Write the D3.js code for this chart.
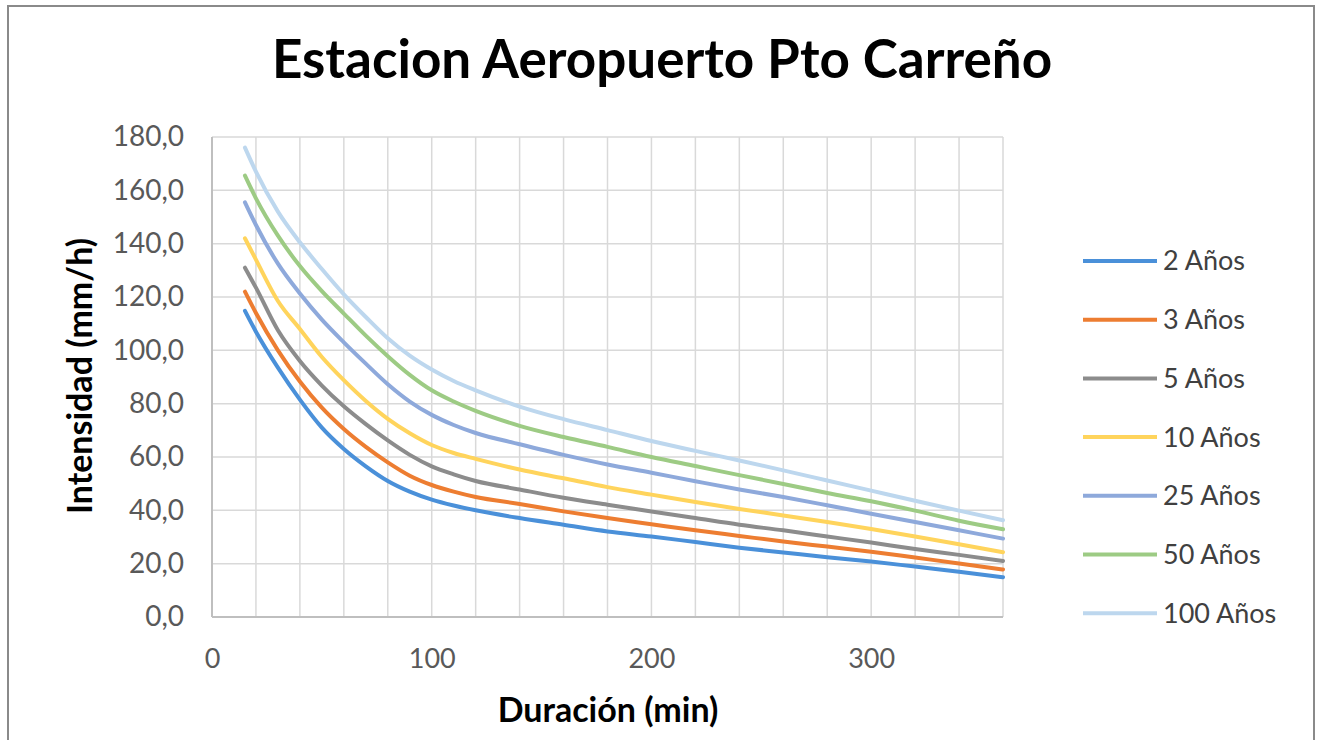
<!DOCTYPE html>
<meta charset="utf-8">
<script src="https://d3js.org/d3.v7.min.js"></script>
<style>
    body { margin: 0; background: #fff; }
    text { font-family: Lato, "Open Sans", sans-serif; }
</style>
<body>
<div id="chart"></div>
</body>
<script>
    // duraciones (min)
    const duracion = [15, 20, 30, 40, 50, 60, 70, 80, 90, 100, 110, 120, 140, 160, 180, 200, 220, 240, 260, 280, 300, 320, 340, 360];

    // intensidades (mm/h) por periodo de retorno
    const tr2   = [114.8, 107, 93.5, 81.5, 71, 63, 56.5, 51, 47, 44, 41.8, 40.0, 37.1, 34.6, 32.1, 30.2, 28.1, 26.0, 24.2, 22.4, 20.8, 18.9, 17.0, 14.9];
    const tr3   = [122, 114, 100, 88.3, 78.5, 70.5, 63.8, 58, 53, 49.5, 47, 45, 42.4, 39.6, 37.1, 34.8, 32.5, 30.4, 28.3, 26.4, 24.5, 22.3, 20.1, 17.8];
    const tr5   = [131, 123.5, 107.5, 96, 86.8, 79, 72.3, 66.2, 60.8, 56.5, 53.5, 51, 47.8, 44.7, 42.1, 39.6, 37.1, 34.6, 32.5, 30.2, 27.9, 25.5, 23.3, 21.0];
    const tr10  = [142, 134, 118.5, 108, 97.5, 88.8, 81, 74.3, 68.9, 64.5, 61.5, 59.3, 55.3, 52.0, 48.7, 45.9, 43.1, 40.5, 38.1, 35.6, 33.0, 30.2, 27.3, 24.3];
    const tr25  = [155.5, 147, 132.5, 121.3, 111.5, 103, 95, 87.3, 80.8, 75.8, 72, 69, 64.8, 60.8, 57.2, 54.1, 50.9, 47.8, 45.0, 41.9, 38.7, 35.6, 32.5, 29.4];
    const tr50  = [165.5, 157, 143, 131.6, 122.2, 113.8, 105.5, 97.8, 90.8, 85, 80.8, 77.3, 71.7, 67.5, 63.8, 60.0, 56.6, 53.2, 49.9, 46.5, 43.4, 39.9, 36.1, 32.9];
    const tr100 = [176, 167, 152, 140.5, 130.5, 121, 112.5, 104.5, 98, 92.8, 88.5, 85, 78.9, 74.2, 70.1, 66.0, 62.3, 58.7, 55.0, 51.2, 47.4, 43.6, 39.9, 36.3];

    const nombres = ["2 Años", "3 Años", "5 Años", "10 Años", "25 Años", "50 Años", "100 Años"];
    const colores = ["#4A90D9", "#ED7D31", "#8C8C8C", "#FFD45C", "#8EA9DB", "#9DCB84", "#BDD7EE"];
    const valores = [tr2, tr3, tr5, tr10, tr25, tr50, tr100];

    const xTicks = [0, 100, 200, 300];
    const yTicks = d3.range(0, 181, 20);

    const width = 1318, height = 740;
    const plot = {left: 212, right: 1003, top: 137, bottom: 617};

    const svg = d3.select("#chart")
        .append("svg")
        .attr("width", width)
        .attr("height", height);

    // marco exterior
    svg.append("rect")
        .attr("x", 8).attr("y", 6)
        .attr("width", 1306).attr("height", 760)
        .attr("fill", "none")
        .attr("stroke", "#8a8a8a")
        .attr("stroke-width", 2);

    const x = d3.scaleLinear().domain([0, 360]).range([plot.left, plot.right]);
    const y = d3.scaleLinear().domain([0, 180]).range([plot.bottom, plot.top]);

    // rejilla
    svg.append("g")
        .selectAll("line")
        .data(d3.range(20, 361, 20))
        .enter().append("line")
        .attr("x1", d => x(d)).attr("x2", d => x(d))
        .attr("y1", y(0)).attr("y2", y(180))
        .attr("stroke", "#d9d9d9").attr("stroke-width", 1.5);

    svg.append("g")
        .selectAll("line")
        .data(yTicks.slice(1))
        .enter().append("line")
        .attr("x1", x(0)).attr("x2", x(360))
        .attr("y1", d => y(d)).attr("y2", d => y(d))
        .attr("stroke", "#d9d9d9").attr("stroke-width", 1.5);

    // ejes
    svg.append("line")
        .attr("x1", x(0)).attr("x2", x(0))
        .attr("y1", y(0)).attr("y2", y(180))
        .attr("stroke", "#bfbfbf").attr("stroke-width", 2);
    svg.append("line")
        .attr("x1", x(0)).attr("x2", x(360))
        .attr("y1", y(0)).attr("y2", y(0))
        .attr("stroke", "#bfbfbf").attr("stroke-width", 2);

    const coma = d3.formatLocale({decimal: ",", thousands: ".", grouping: [3], currency: ["", ""]});

    const yAxis = svg.append("g")
        .attr("transform", "translate(" + (plot.left - 28) + ",0)")
        .call(d3.axisLeft(y).tickValues(yTicks).tickSize(0).tickFormat(coma.format(".1f")));
    yAxis.select(".domain").remove();
    yAxis.selectAll("text")
        .attr("x", 0)
        .style("font-family", "Lato, sans-serif")
        .style("font-size", "28px")
        .attr("fill", "#595959");

    const xAxis = svg.append("g")
        .attr("transform", "translate(0," + (plot.bottom + 29) + ")")
        .call(d3.axisBottom(x).tickValues(xTicks).tickSize(0));
    xAxis.select(".domain").remove();
    xAxis.selectAll("text")
        .style("font-family", "Lato, sans-serif")
        .style("font-size", "27px")
        .attr("fill", "#595959");

    // curvas
    const line = d3.line()
        .x((d, i) => x(duracion[i]))
        .y(d => y(d))
        .curve(d3.curveMonotoneX);

    svg.append("g")
        .selectAll("path")
        .data(valores)
        .enter().append("path")
        .attr("d", d => line(d))
        .attr("fill", "none")
        .attr("stroke", (d, i) => colores[i])
        .attr("stroke-width", 4)
        .attr("stroke-linecap", "round")
        .attr("stroke-linejoin", "round");

    // leyenda
    const legend = svg.append("g")
        .selectAll("g")
        .data(nombres)
        .enter().append("g")
        .attr("transform", (d, i) => "translate(1083," + (261 + i * 58.7) + ")");
    legend.append("line")
        .attr("x1", 0).attr("x2", 74)
        .attr("stroke", (d, i) => colores[i])
        .attr("stroke-width", 4);
    legend.append("text")
        .attr("x", 80)
        .attr("dy", "0.35em")
        .style("font-size", "27px")
        .attr("fill", "#404040")
        .text(d => d);

    // titulos
    svg.append("text")
        .attr("x", 662).attr("y", 78)
        .attr("text-anchor", "middle")
        .style("font-size", "53px")
        .style("font-weight", "bold")
        .attr("fill", "#000")
        .text("Estacion Aeropuerto Pto Carreño");

    svg.append("text")
        .attr("x", 608).attr("y", 722)
        .attr("text-anchor", "middle")
        .style("font-size", "34px")
        .style("font-weight", "bold")
        .attr("fill", "#000")
        .text("Duración (min)");

    svg.append("text")
        .attr("transform", "translate(92,376) rotate(-90)")
        .attr("text-anchor", "middle")
        .style("font-size", "34px")
        .style("font-weight", "bold")
        .attr("fill", "#000")
        .text("Intensidad (mm/h)");
</script>
</html>
